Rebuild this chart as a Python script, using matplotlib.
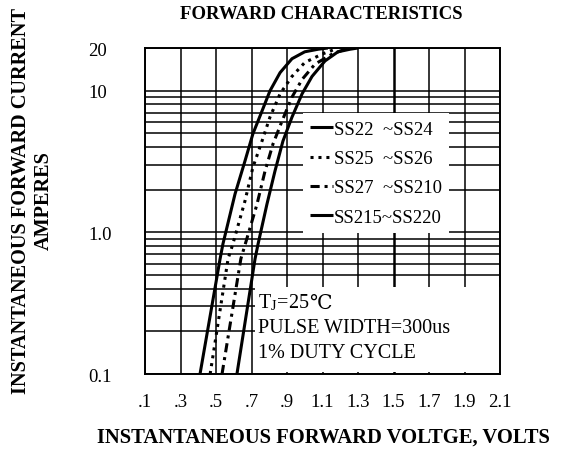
import numpy as np
import matplotlib
matplotlib.use('Agg')
import matplotlib.pyplot as plt
from matplotlib.patches import Rectangle

plt.rcParams['font.family'] = ['Liberation Serif', 'DejaVu Serif', 'DejaVu Sans']
plt.rcParams['mathtext.fontset'] = 'stix'

# Кривые прямой ВАХ (В, А)
v_ss22 = [0.41, 0.47, 0.523, 0.539, 0.607, 0.663, 0.708, 0.759, 0.804, 0.861, 0.928, 1.0, 1.075, 1.13]
i_ss22 = [0.1, 0.27, 0.65, 0.827, 1.86, 3.18, 4.96, 7.17, 9.96, 13.4, 16.8, 18.8, 19.6, 20.0]

v_ss25 = [0.467, 0.568, 0.595, 0.663, 0.708, 0.759, 0.804, 0.861, 0.928, 1.0, 1.097, 1.17]
i_ss25 = [0.1, 0.65, 0.827, 1.66, 2.88, 4.4, 6.5, 9.5, 12.6, 15.8, 18.1, 19.6]

v_ss27 = [0.534, 0.64, 0.665, 0.731, 0.776, 0.821, 0.872, 0.928, 0.985, 1.058, 1.154, 1.227]
i_ss27 = [0.1, 0.65, 0.827, 1.58, 2.7, 4.2, 6.1, 9.0, 12.0, 15.4, 18.1, 19.6]

v_ss215 = [0.618, 0.67, 0.72, 0.737, 0.787, 0.832, 0.877, 0.928, 0.985, 1.041, 1.114, 1.187, 1.255, 1.3]
i_ss215 = [0.1, 0.26, 0.65, 0.827, 1.58, 2.7, 4.4, 6.5, 9.5, 12.6, 16.2, 18.8, 19.6, 20.0]

labels = ['SS22  ~SS24', 'SS25  ~SS26', 'SS27  ~SS210', 'SS215~SS220']

x_ticks = [0.1, 0.3, 0.5, 0.7, 0.9, 1.1, 1.3, 1.5, 1.7, 1.9, 2.1]
x_ticklabels = ['.1', '.3', '.5', '.7', '.9', '1.1', '1.3', '1.5', '1.7', '1.9', '2.1']
y_ticks = [0.1, 1.0, 10, 20]
y_ticklabels = ['0.1', '1.0', '10', '20']

notes = ['PULSE WIDTH=300us', '1% DUTY CYCLE']

fs = 13.5

fig = plt.figure(figsize=(5.63, 4.64), dpi=100)
ax = fig.add_axes([145 / 563, 1 - 375 / 464, 355 / 563, 326 / 464])

ax.set_yscale('log')
ax.set_xlim(0.1, 2.1)
ax.set_ylim(0.1, 20)

l1, = ax.plot(v_ss22, i_ss22, color='black', lw=2.2, solid_capstyle='butt')
l2, = ax.plot(v_ss25, i_ss25, color='black', lw=2.2, linestyle=(0, (1, 1.6)))
l3, = ax.plot(v_ss27, i_ss27, color='black', lw=2.2, linestyle=(0, (3, 1.6, 1, 1.6)))
l4, = ax.plot(v_ss215, i_ss215, color='black', lw=2.2, solid_capstyle='butt')

# сетка
ax.set_axisbelow(True)
ax.set_xticks(x_ticks)
ax.set_xticklabels(x_ticklabels, fontsize=fs)
ax.set_yticks(y_ticks)
ax.set_yticklabels(y_ticklabels, fontsize=fs)
ax.yaxis.set_minor_locator(matplotlib.ticker.LogLocator(base=10, subs=np.arange(2, 10)))
ax.yaxis.set_minor_formatter(matplotlib.ticker.NullFormatter())
ax.grid(True, which='both', color='black', lw=1.1)
ax.tick_params(which='both', direction='in', length=0, pad=14)
ax.tick_params(axis='y', pad=41)
for lab in ax.get_yticklabels():
    lab.set_ha('left')
ax.get_xgridlines()[7].set_linewidth(1.8)
for sp in ax.spines.values():
    sp.set_linewidth(1.4)

# белые подложки
ax.add_patch(Rectangle((0.31, 0.006), 0.69, 0.26, transform=ax.transAxes,
                       facecolor='white', edgecolor='none', zorder=1))
ax.legend([l1, l2, l3, l4], labels, loc='upper left', bbox_to_anchor=(0.445, 0.80),
          fontsize=fs, frameon=True, facecolor='white', edgecolor='none', framealpha=1,
          fancybox=False, handlelength=1.2, handletextpad=0.05, labelspacing=0.65,
          borderpad=0.4, borderaxespad=0)

nfs = 14.5
t0 = ax.text(0.318, 0.22, 'T$_\\mathregular{J}$=25', transform=ax.transAxes,
             fontsize=nfs, va='center', ha='left', zorder=3)
ax.annotate('\u2103', xy=(1, 0.5), xycoords=t0, fontsize=nfs, va='center', ha='left',
            family=['DejaVu Serif', 'DejaVu Sans'], zorder=3)
for k, txt in enumerate(notes):
    ax.text(0.318, 0.143 - k * 0.077, txt, transform=ax.transAxes, fontsize=nfs,
            va='center', ha='left', zorder=3)

fig.text(0.57, 0.968, 'FORWARD CHARACTERISTICS', fontsize=fs, fontweight='bold',
         ha='center', va='center')
fig.text(0.574, 0.056, 'INSTANTANEOUS FORWARD VOLTGE, VOLTS', fontsize=14.9,
         fontweight='bold', ha='center', va='center')
fig.text(0.058, 0.567, 'INSTANTANEOUS FORWARD CURRENT\nAMPERES', fontsize=14.6,
         fontweight='bold', ha='center', va='center', rotation=90,
         multialignment='center', linespacing=1.2)

fig.savefig('out.png', dpi=100)
